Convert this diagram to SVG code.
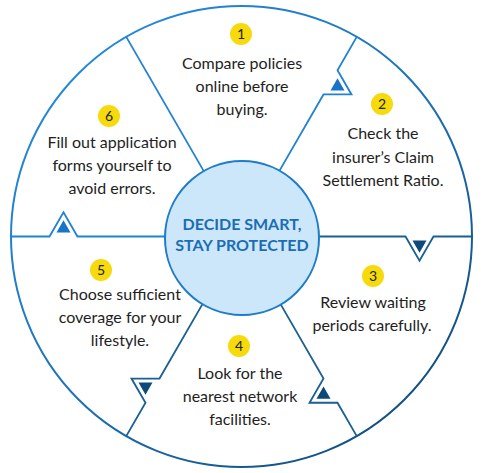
<svg xmlns="http://www.w3.org/2000/svg" width="486" height="473" viewBox="0 0 486 473">
<defs>
<linearGradient id="ring" x1="0.15" y1="0.1" x2="0.85" y2="0.9">
<stop offset="0" stop-color="#2389d9"/>
<stop offset="0.5" stop-color="#1d72b8"/>
<stop offset="1" stop-color="#124f80"/>
</linearGradient>
</defs>
<style>
.lb{fill:none;stroke:#2282d2;stroke-width:1.8;stroke-linejoin:miter}
.ln{fill:none;stroke:#1b5f93;stroke-width:1.8;stroke-linejoin:miter}
.fb{fill:#1874c8}
.fn{fill:#0d4a79}
.num{fill:#f6da0c}
.nt{font-family:Lato,"Liberation Sans",sans-serif;font-size:14px;fill:#222;text-anchor:middle}
.tx{font-family:Lato,"Liberation Sans",sans-serif;font-size:16px;fill:#1e1e1e;text-anchor:middle}
.ct{font-family:Lato,"Liberation Sans",sans-serif;font-size:16px;font-weight:bold;fill:#1a6db5;text-anchor:middle}
</style>
<rect width="486" height="473" fill="#fff"/>
<circle cx="241.5" cy="236.5" r="230.5" fill="none" stroke="url(#ring)" stroke-width="2"/>
<g id="connectors">
<polyline class="lb" points="206.5,175.88 126.25,36.88"/>
<polyline class="lb" points="276.5,175.88 323.5,94.47 351.5,94.47 337.5,70.23 356.75,36.88"/>
<polygon class="fb" points="330.5,90.45 337.5,78.3 344.5,90.45"/>
<polyline class="ln" points="311.5,236.5 405.5,236.5 419.5,260.75 433.5,236.5 472,236.5"/>
<polygon class="fn" points="412.5,240.54 426.5,240.54 419.5,252.67"/>
<polyline class="ln" points="276.5,297.12 323.5,378.53 309.5,402.77 337.5,402.77 356.75,436.12"/>
<polygon class="fn" points="323.5,386.6 330.5,398.75 316.5,398.75"/>
<polyline class="ln" points="206.5,297.12 159.5,378.53 131.5,378.53 145.5,402.77 126.25,436.12"/>
<polygon class="fn" points="138.5,382.55 152.5,382.55 145.5,394.7"/>
<polyline class="lb" points="171.5,236.5 77.5,236.5 63.5,212.25 49.5,236.5 11,236.5"/>
<polygon class="fb" points="56.5,232.46 70.5,232.46 63.5,220.33"/>
</g>
<g id="center">
<circle cx="242" cy="238" r="77" fill="#cde7fa" stroke="#1e7cc8" stroke-width="2"/>
<text class="ct" x="242" y="230">DECIDE SMART,</text>
<text class="ct" x="242" y="250.5">STAY PROTECTED</text>
</g>
<g id="step1">
<circle class="num" cx="241" cy="34" r="11"/>
<text class="nt" x="241" y="39">1</text>
<text class="tx" x="242" y="68.5">Compare policies</text>
<text class="tx" x="242" y="91.5">online before</text>
<text class="tx" x="242" y="114.5">buying.</text>
</g>
<g id="step2">
<circle class="num" cx="382" cy="104" r="11"/>
<text class="nt" x="382" y="109">2</text>
<text class="tx" x="383" y="139">Check the</text>
<text class="tx" x="383" y="162.5">insurer’s Claim</text>
<text class="tx" x="383" y="186">Settlement Ratio.</text>
</g>
<g id="step3">
<circle class="num" cx="373" cy="276" r="11"/>
<text class="nt" x="373" y="281">3</text>
<text class="tx" x="373" y="307.5">Review waiting</text>
<text class="tx" x="372" y="331">periods carefully.</text>
</g>
<g id="step4">
<circle class="num" cx="239" cy="346" r="11"/>
<text class="nt" x="239" y="351">4</text>
<text class="tx" x="240" y="378.5">Look for the</text>
<text class="tx" x="240" y="402">nearest network</text>
<text class="tx" x="240" y="425">facilities.</text>
</g>
<g id="step5">
<circle class="num" cx="101" cy="270" r="11"/>
<text class="nt" x="101" y="275">5</text>
<text class="tx" x="120" y="299.5">Choose sufficient</text>
<text class="tx" x="120" y="323">coverage for your</text>
<text class="tx" x="120" y="346">lifestyle.</text>
</g>
<g id="step6">
<circle class="num" cx="109" cy="116" r="11"/>
<text class="nt" x="109" y="121">6</text>
<text class="tx" x="112" y="147.5">Fill out application</text>
<text class="tx" x="112" y="171">forms yourself to</text>
<text class="tx" x="112" y="194">avoid errors.</text>
</g>
</svg>
